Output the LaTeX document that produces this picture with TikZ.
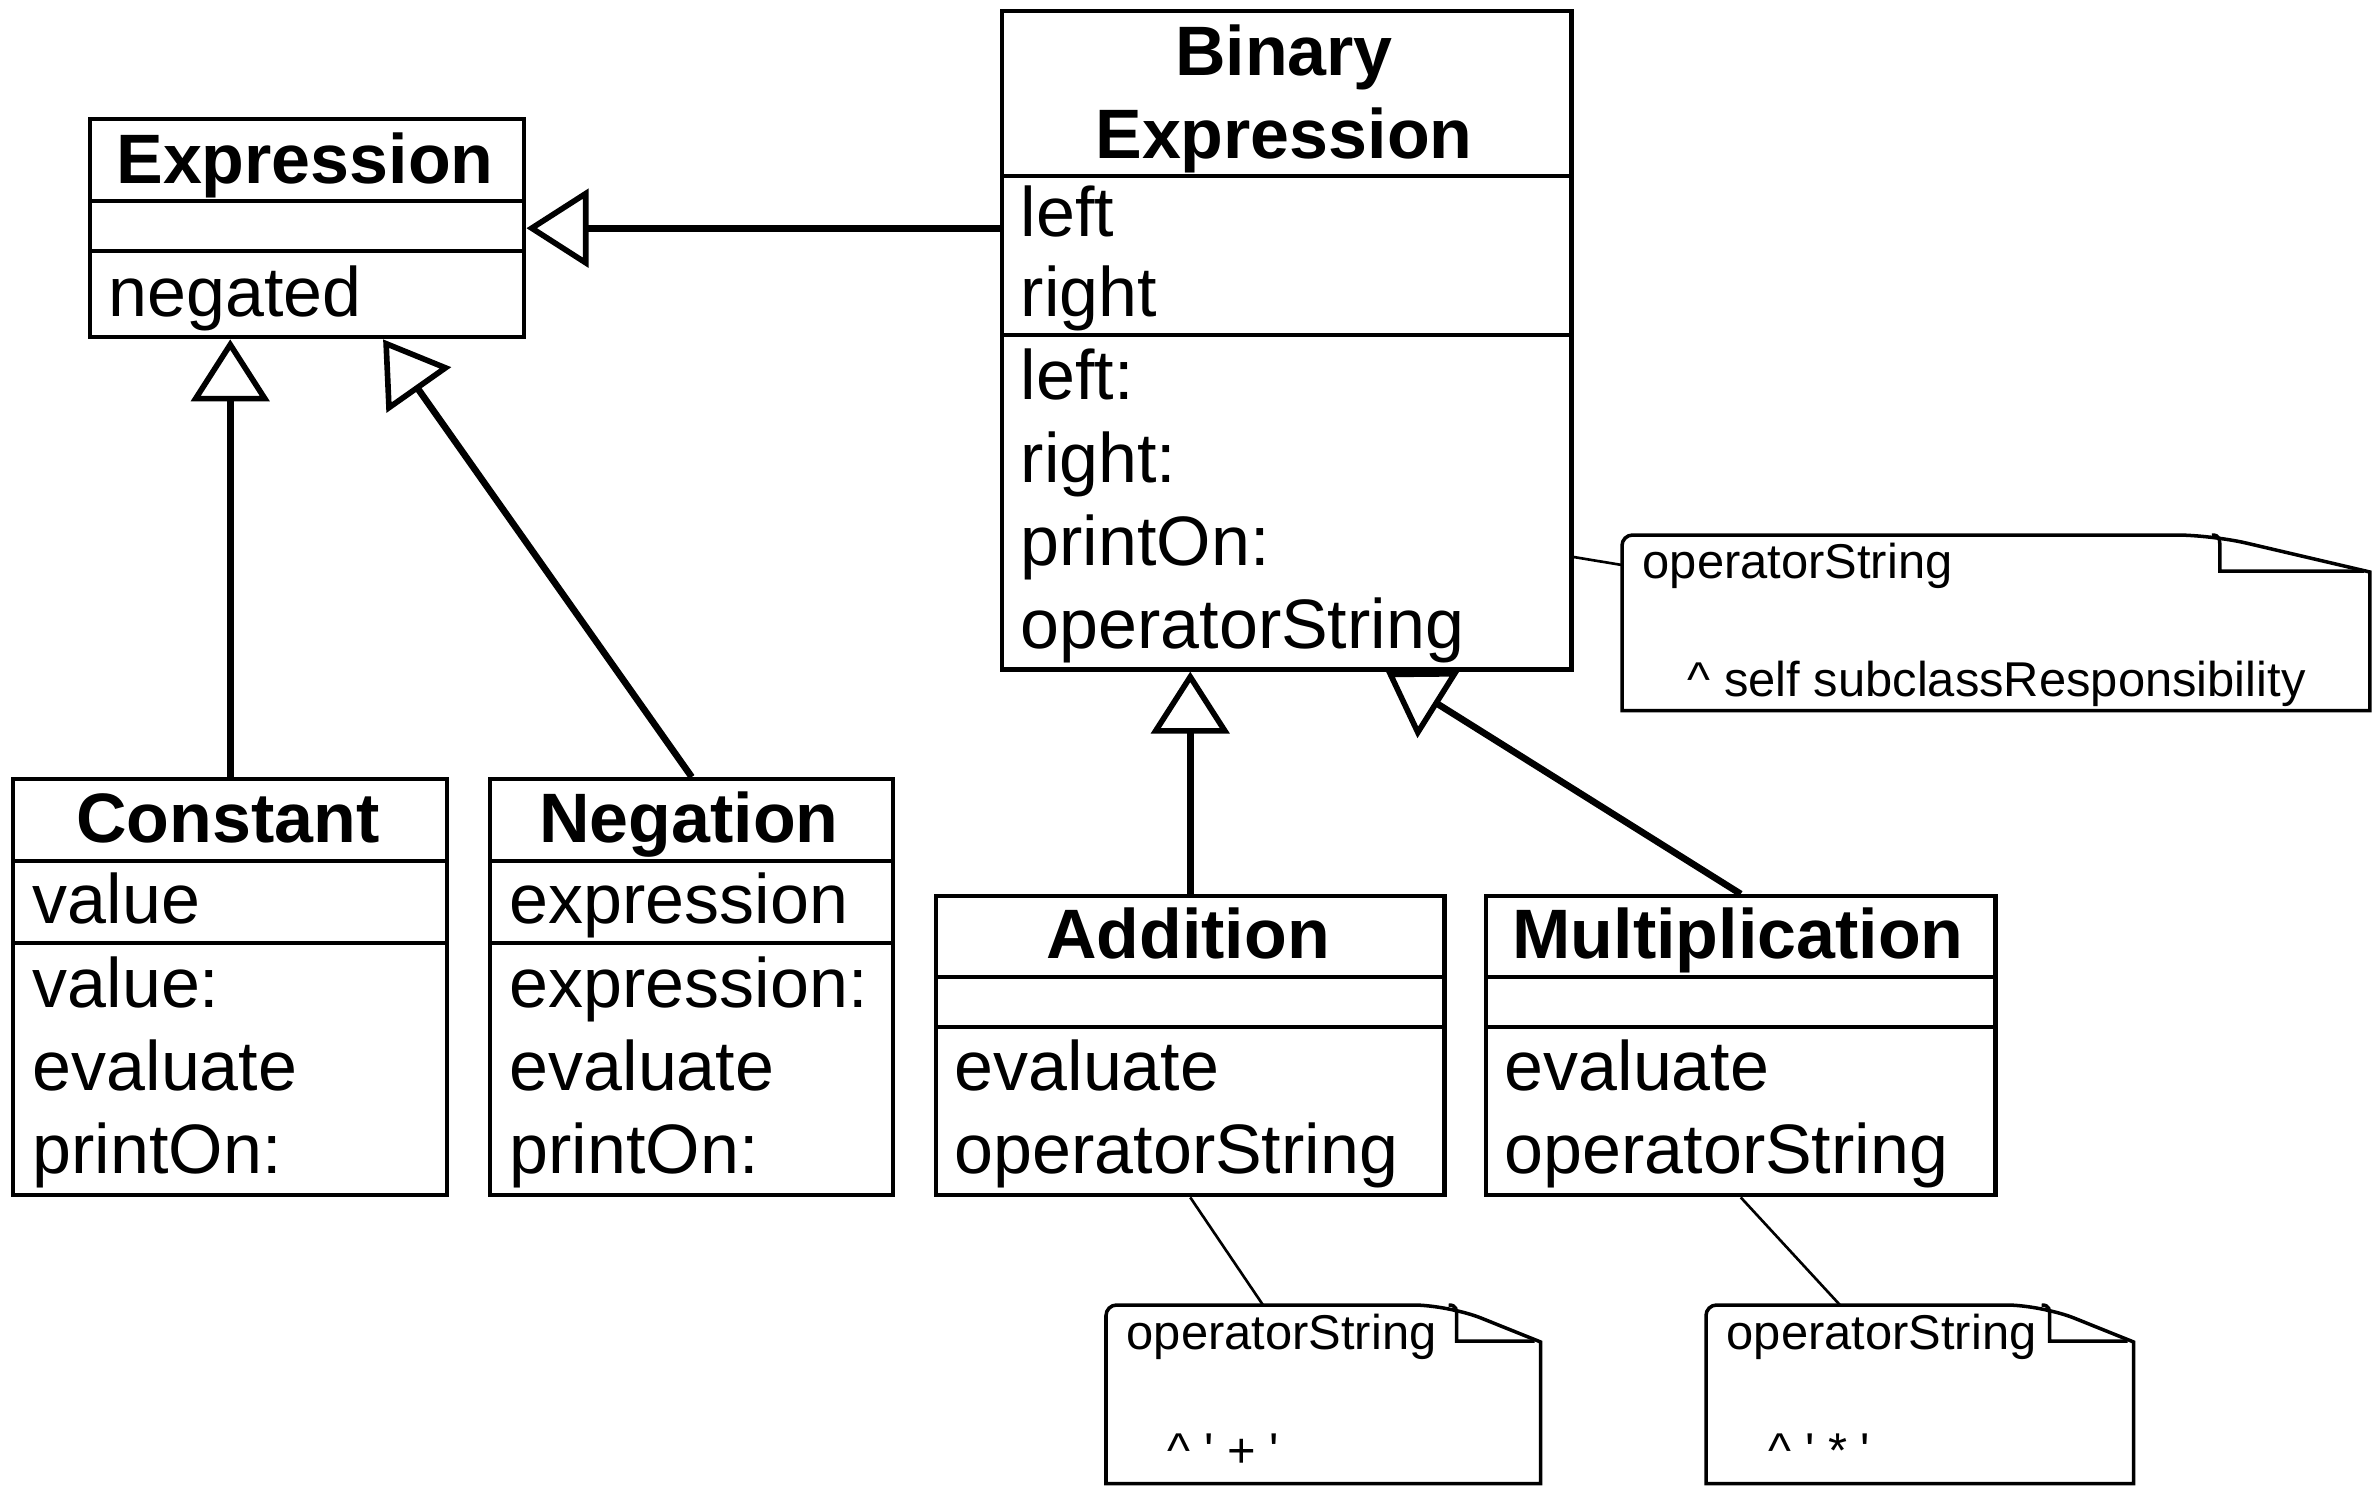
\documentclass[tikz,border=0pt]{standalone}
\usepackage{fontspec}
\setmainfont{Liberation Sans}
\usepackage{tikz}
\usetikzlibrary{
  calc,
  arrows.meta
}

\begin{document}
\begin{tikzpicture}[x=0.01cm,y=-0.01cm,
    classbox/.style={draw,line width=1.2pt,anchor=north west,inner sep=0pt},
    rule/.style={line width=1.2pt},
    notebox/.style={line width=1pt},
    notenode/.style={anchor=north west,inner sep=0pt},
    title/.style={anchor=base,inner sep=0pt,font=\fontsize{19.9}{24}\selectfont\bfseries},
    member/.style={anchor=base west,inner sep=0pt,font=\fontsize{19.9}{24}\selectfont},
    notetext/.style={anchor=base west,inner sep=0pt,font=\fontsize{13.9}{17}\selectfont},
    gen/.style={line width=1.9pt,-{Triangle[open,length=0.62cm,width=0.78cm,line width=1.6pt]}},
    noteline/.style={line width=0.75pt}]
\useasboundingbox (0,0) rectangle (2374,1487);

% class frames
\node[classbox,minimum width=4.34cm,minimum height=2.18cm] (expr) at (88,117) {};
\node[classbox,minimum width=5.69cm,minimum height=6.58cm] (bin) at (1000,9) {};
\node[classbox,minimum width=4.34cm,minimum height=4.16cm] (const) at (11,777) {};
\node[classbox,minimum width=4.03cm,minimum height=4.16cm] (neg) at (488,777) {};
\node[classbox,minimum width=5.08cm,minimum height=2.99cm] (add) at (934,894) {};
\node[classbox,minimum width=5.09cm,minimum height=2.99cm] (mul) at (1484,894) {};

% compartments
\draw[rule] (expr.west |- 0,201) -- (expr.east |- 0,201);
\draw[rule] (expr.west |- 0,251) -- (expr.east |- 0,251);
\draw[rule] (bin.west |- 0,176) -- (bin.east |- 0,176);
\draw[rule] (bin.west |- 0,335) -- (bin.east |- 0,335);
\draw[rule] (const.west |- 0,861) -- (const.east |- 0,861);
\draw[rule] (const.west |- 0,943) -- (const.east |- 0,943);
\draw[rule] (neg.west |- 0,861) -- (neg.east |- 0,861);
\draw[rule] (neg.west |- 0,943) -- (neg.east |- 0,943);
\draw[rule] (add.west |- 0,977) -- (add.east |- 0,977);
\draw[rule] (add.west |- 0,1027) -- (add.east |- 0,1027);
\draw[rule] (mul.west |- 0,977) -- (mul.east |- 0,977);
\draw[rule] (mul.west |- 0,1027) -- (mul.east |- 0,1027);

% names
\node[title] (expr-name) at (305,183) {Expression};
\node[title] (bin-name1) at (1284,75) {Binary};
\node[title] (bin-name2) at (1284,158) {Expression};
\node[title] (const-name) at (228,842) {Constant};
\node[title] (neg-name) at (689,842) {Negation};
\node[title] (add-name) at (1188,958) {Addition};
\node[title] (mul-name) at (1738,958) {Multiplication};

% attributes and methods
\node[member] (expr-a) at (108,316) {negated};
\node[member] (bin-a1) at (1020,236) {left};
\node[member] (bin-a2) at (1020,316) {right};
\foreach \t [count=\i from 0] in {left:,right:,printOn:,operatorString}
  \node[member] (bin-m\i) at (1020,399+83*\i) {\t};
\node[member] (const-a) at (32,923) {value};
\foreach \t [count=\i from 0] in {value:,evaluate,printOn:}
  \node[member] (const-m\i) at (32,1007+83*\i) {\t};
\node[member] (neg-a) at (509,923) {expression};
\foreach \t [count=\i from 0] in {expression:,evaluate,printOn:}
  \node[member] (neg-m\i) at (509,1007+83*\i) {\t};
\node[member] (add-m1) at (954,1090) {evaluate};
\node[member] (add-m2) at (954,1173) {operatorString};
\node[member] (mul-m1) at (1504,1090) {evaluate};
\node[member] (mul-m2) at (1504,1173) {operatorString};

% notes
\node[notenode,minimum width=7.46cm,minimum height=1.74cm] (bnote) at (1622,535) {};
\node[notenode,minimum width=4.33cm,minimum height=1.77cm] (anote) at (1106,1305) {};
\node[notenode,minimum width=4.26cm,minimum height=1.77cm] (mnote) at (1706,1305) {};
\foreach \n/\f in {bnote/158,anote/92,mnote/92} {
  \draw[notebox] (\n.south east) -- ($(\n.north east)+(0,37)$) [rounded corners=10] -- ($(\n.north east)+(-\f,0)$) [rounded corners=3] -- (\n.north west) [sharp corners] -- (\n.south west) -- cycle;
  \draw[notebox] ($(\n.north east)+(-\f,0)$) .. controls ($(\n.north east)+(-\f+8,0)$) and ($(\n.north east)+(-\f+8,4)$) .. ($(\n.north east)+(-\f+8,14)$) -- ($(\n.north east)+(-\f+8,36)$) -- ($(\n.north east)+(-6,36)$);
}
\node[notetext] (bnote-1) at (1642,578) {operatorString};
\node[notetext] (bnote-2) at (1687,696) {\textasciicircum{} self subclassResponsibility};
\node[notetext] (anote-1) at (1126,1349) {operatorString};
\node[notetext] (anote-2) at (1167,1467) {\textasciicircum{} \textquotesingle{} + \textquotesingle};
\node[notetext] (mnote-1) at (1726,1349) {operatorString};
\node[notetext] (mnote-2) at (1768,1467) {\textasciicircum{} \textquotesingle{} * \textquotesingle};

\draw[noteline] (bin.east |- 0,557) -- ($(bnote.north west)+(0,30)$);
\draw[noteline] (add.south) -- ($(anote.north west)+(157,0)$);
\draw[noteline] (mul.south) -- ($(mnote.north west)+(134,0)$);

% inheritance
\draw[gen] (bin.west |- expr.east) -- (expr.east);
\draw[gen] (const.north) -- (const.north |- expr.south);
\draw[gen] (neg.north) -- ($(expr.south west)!0.673!(expr.south east)$);
\draw[gen] (add.north) -- (add.north |- bin.south);
\draw[gen] (mul.north) -- ($(bin.south west)!0.673!(bin.south east)$);
\end{tikzpicture}
\end{document}
